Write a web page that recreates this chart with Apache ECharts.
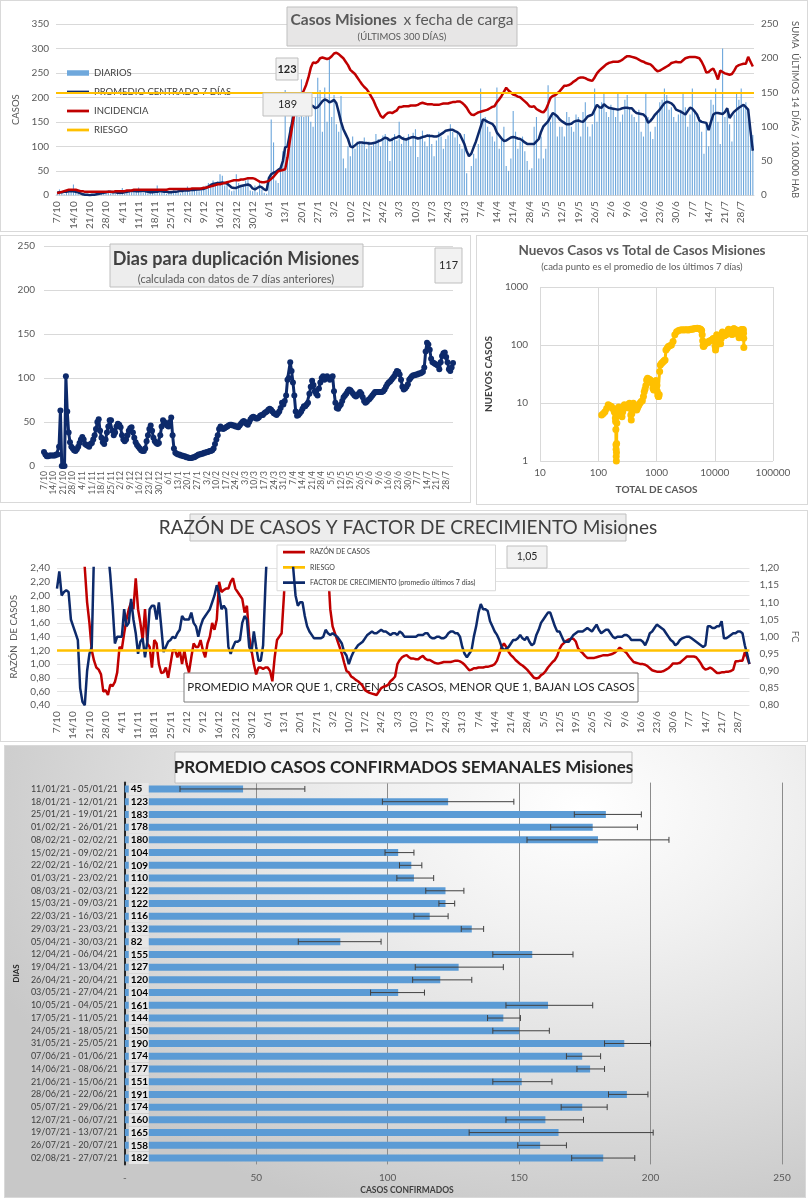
<!DOCTYPE html>
<html><head><meta charset="utf-8">
<script src="https://cdn.jsdelivr.net/npm/echarts/dist/echarts.min.js"></script>
<style>
html,body{margin:0;padding:0;background:#fff;width:808px;height:1200px;overflow:hidden;}
.p{position:absolute;outline:1px solid #d9d9d9;outline-offset:-1px;}
</style></head><body>
<div id="c1" class="p" style="left:0;top:0;width:808px;height:232px"></div>
<div id="c2" class="p" style="left:0;top:235px;width:471px;height:268px"></div>
<div id="c3" class="p" style="left:476px;top:235px;width:332px;height:270px"></div>
<div id="c4" class="p" style="left:0;top:510px;width:808px;height:232px"></div>
<div id="c5" class="p" style="left:4px;top:745px;width:802px;height:453px;background:radial-gradient(ellipse 80% 95% at 72% 14%, #ffffff 0%, #f1f1f1 30%, #dcdcdc 68%, #c8c8c8 100%);"></div>
<script>
// ---------- DATA ----------
const startDay = [2020, 9, 7];   // 7/10/2020, 300 days
const dates = [];
for (let i = 0; i < 300; i++) { const d = new Date(startDay[0], startDay[1], startDay[2] + i); dates.push(d.getDate() + '/' + (d.getMonth() + 1)); }

// Chart 1: daily cases (bars), centred 7-day mean, 14-day incidence per 100k
const dailyCases = [
3,12,5,2,8,6,10, 22,5,3,0,1,2,0, 0,2,1,3,4,6,3, 8,10,4,6,2,7,5, 15,3,9,12,6,10,8,
16,7,5,10,4,8,6, 12,20,5,7,9,3,6, 5,10,8,12,4,14,9, 18,6,12,10,15,8,16, 12,20,25,18,30,22,28,
43,40,20,22,12,8,10, 43,25,20,22,30,35,10, 8,20,6,28,12,5,3, 38,155,108,30,25,60,90,
215,95,140,200,210,180,160, 237,160,175,165,150,140,200, 240,215,130,220,150,280,160,
205,145,130,203,75,55,100, 80,120,95,110,110,105,118, 95,110,100,105,125,115,100,
122,125,115,70,118,125,112, 150,105,120,115,125,100,128, 135,78,120,132,110,100,125,
105,80,112,130,120,95,115, 122,145,130,118,128,105,95, 125,45,0,60,85,75,105,
218,155,160,140,130,120,110, 220,95,118,140,60,50,75, 172,130,95,110,120,90,70,
52,55,140,160,75,120,75, 95,225,150,170,200,120,140, 140,120,170,160,140,130,165,
160,120,170,190,140,120,145, 218,150,180,190,210,170,160, 185,175,160,210,150,165,195,
205,180,165,160,150,175,130, 120,210,160,130,115,140,170, 190,195,218,205,175,180,160,
150,165,175,210,180,140,165, 218,175,150,160,130,85,145, 100,195,185,218,150,105,300,
160,175,145,110,165,210,195, 218,185,190,170,120,123];
const avg7 = [
5,6,6,7,7,8,8, 8,7,6,4,2,1,1, 0,1,1,2,3,4,5, 6,7,7,6,6,5,5, 5,6,7,8,9,9,8,
8,9,9,8,7,6,6, 7,7,8,8,7,7,6, 6,7,7,8,9,9,10, 10,10,11,11,12,12,13, 13,15,18,21,23,24,25,
25,26,25,24,20,16,15, 15,17,19,20,21,22,20, 14,12,15,18,16,12,10, 35,43,46,48,52,55,70,
98,100,125,150,175,188,190, 182,178,176,180,184,182,178, 180,186,192,196,194,190,192,
195,188,170,150,135,125,115, 100,98,102,106,108,108,107, 107,106,106,107,108,110,112,
115,118,116,112,114,117,118, 121,117,115,114,116,118,119, 118,116,117,119,120,122,121,
121,120,120,122,125,128,132, 133,134,134,131,129,125,115, 105,90,80,85,98,110,125,
140,155,153,150,148,146,140, 128,122,116,111,112,115,118, 119,118,116,115,112,108,105,
105,105,105,110,115,130,141, 146,151,160,168,165,161,155, 151,148,145,145,146,150,152,
153,151,150,155,161,163,165, 175,185,180,179,186,182,179, 178,177,176,175,176,178,179,
179,178,178,172,168,167,166, 165,160,148,152,158,165,170, 175,182,188,191,190,188,183,
175,173,171,168,165,172,179, 177,171,165,153,150,149,148, 133,150,165,168,168,167,166,
170,178,158,165,171,175,179, 182,185,180,175,131,91];
const incidence = [
3,4,5,6,7,8,8, 8,8,7,6,6,5,5, 5,5,5,5,5,5,5, 5,5,5,5,6,6,6, 6,6,7,7,7,8,8,
8,8,8,8,8,8,8, 8,8,8,8,8,8,9, 9,9,9,9,9,9,9, 9,9,10,10,10,10,10, 11,11,12,13,14,15,16,
16,17,18,19,20,21,22, 22,22,23,23,24,25,25, 25,24,22,20,19,19,20, 21,24,27,31,35,36,37,
38,55,79,100,121,130,140, 146,153,161,172,186,194,193, 195,200,201,200,199,200,203,
207,208,206,203,200,195,190, 183,180,177,172,167,162,158, 155,150,144,138,130,123,116,
113,117,120,121,120,122,124, 129,129,130,130,130,131,131, 131,132,134,135,134,133,133,
133,132,132,132,133,134,134, 134,135,136,136,137,137,135, 132,128,122,118,117,119,121,
122,123,124,125,127,129,130, 136,140,145,151,157,153,150, 147,146,144,143,140,137,134,
130,129,130,126,124,122,121, 125,133,142,145,146,149,152, 156,160,160,161,163,166,168,
171,172,172,171,169,168,167, 172,178,182,185,188,191,193, 194,195,195,195,196,198,201,
203,203,202,201,200,198,196, 195,193,192,191,188,184,181, 182,184,186,188,190,193,194,
195,194,194,197,200,201,202, 202,202,201,200,195,188,179, 180,183,185,178,169,182,180,
178,177,176,177,182,188,190, 191,192,192,202,195,188];
const riskIncidence = 150;
const lastDaily = '123', lastIncidence = '189';

// Chart 2: days for doubling
const doublingDays = [
16,13,11,11,12,12,12, 12,12,13,13,22,63,0, 0,0,102,62,38,27,22, 20,18,17,19,22,26,30, 33,30,25,24,23,22,25,
26,30,35,42,50,53,40, 32,27,25,30,38,45,52, 52,40,35,38,45,48,47, 44,35,30,28,30,35,40, 43,44,38,32,27,24,22,
20,18,17,17,20,28,35, 42,46,40,32,28,26,25, 26,35,45,52,50,48,46, 45,50,55,35,20,15,14,
13,13,12,12,11,11,10, 10,9,9,9,10,10,11, 12,13,13,14,14,15,15, 16,16,17,17,18,20,25,
30,35,42,45,43,42,43, 44,45,46,47,47,46,46, 45,45,44,46,48,50,51, 50,48,47,50,53,55,56,
55,54,54,55,57,58,58, 60,61,62,64,65,64,62, 60,59,58,60,62,66,72, 70,74,80,98,100,118,108,
95,80,62,57,58,60,62, 65,68,68,70,72,82,90, 97,92,85,82,80,88,95, 100,102,98,100,102,100,98,
100,102,85,72,66,65,68, 70,74,78,80,82,85,87, 86,84,82,80,79,80,82, 84,82,78,74,72,73,75,
76,78,80,82,84,84,84, 84,84,84,85,87,90,93, 95,96,98,100,102,105,108, 107,104,98,90,87,88,90,
93,98,100,102,103,103,104, 104,105,105,106,107,112,130, 140,138,132,122,118,117,116,
115,114,110,118,125,128,129, 124,118,110,108,112,117];
const lastDoubling = '117';

// Chart 3: [total cases, new cases (7-day mean)]
const newVsTotal = [
[114,6.2],[122,6.6],[130,7.1],[139,8.0],[148,9.3],[158,9.0],[168,8.7],[178,8.0],[187,7.2],[192,6.8],[196,5.5],[198,4.8],
[200,3.5],[201,1.9],[202,1.6],[203,1.2],[204,1.0],[205,1.4],[206,2.0],[208,4.5],[212,6.0],[216,8.1],[224,8.5],[232,8.0],
[240,7.6],[248,7.0],[255,5.8],[262,7.0],[270,8.5],[280,9.3],[292,8.8],[305,8.3],[320,8.7],[332,9.5],[342,9.9],[352,8.0],
[361,6.2],[368,5.1],[376,6.5],[388,8.5],[400,9.9],[418,9.0],[438,8.3],[455,7.6],[469,8.1],[485,8.8],[500,9.3],[520,10.0],
[545,10.6],[570,10.9],[595,13.0],[615,15.7],[635,17.5],[655,20],[675,25],[700,26.8],[728,26.0],[755,25.5],[780,25.0],
[810,24.0],[840,22.0],[870,18.0],[895,16.8],[920,20],[950,23.4],[975,24.5],[1000,23.4],[1015,20.0],[1030,16.0],[1050,13.8],
[1070,13.0],[1090,12.9],[1110,14],[1130,35],[1160,45],[1210,48],[1260,50],[1310,52],[1360,54],[1400,55],[1450,82],[1520,88],
[1590,94],[1690,97],[1800,100],[1920,115],[2060,150],[2210,170],[2390,177],[2570,182],[2750,183],[2930,181],[3110,183],
[3300,184],[3480,182],[3670,183],[3860,186],[4050,187],[4240,189],[4430,190],[4620,192],[4820,193],[5010,195],[5200,192],
[5400,190],[5590,188],[5780,185],[5950,178],[6080,150],[6200,118],[6300,98],[6400,94],[6500,96],[6600,100],[6800,106],
[7000,107],[7300,108],[7600,110],[7900,116],[8200,116],[8500,120],[8800,121],[9100,125],[9400,130],[9700,129],[10000,120],
[10150,95],[10300,82],[10450,92],[10650,100],[10800,150],[11100,146],[11400,128],[11700,115],[12000,117],[12300,108],
[12600,105],[12900,130],[13200,151],[13500,168],[13800,161],[14100,151],[14400,145],[14700,146],[15000,148],[15300,152],
[15600,150],[15900,155],[16200,162],[16550,165],[16900,178],[17250,186],[17600,181],[17950,179],[18300,178],[18650,172],
[19000,167],[19350,162],[19700,152],[20050,153],[20400,165],[20750,178],[21100,190],[21450,191],[21800,183],[22150,173],
[22500,172],[22800,178],[23150,181],[23500,170],[23850,165],[24200,168],[24550,180],[24900,176],[25250,155],[25550,150],
[25850,148],[26150,133],[26400,168],[26750,170],[27100,178],[27400,158],[27750,171],[28100,179],[28450,182],[28800,185],
[29150,180],[29500,183],[29850,178],[30200,175],[30550,180],[30900,185],[31200,160],[31450,131],[31550,91]];

// Chart 4: ratio of cases and growth factor
const caseRatio = [
5,5,5,5,5,5,5, 4,3.5,3.5,3,3,2.4,1.9, 1.6,1.2,1.05,0.95,0.92,0.85,0.6, 0.62,0.55,0.7,0.68,0.74,0.88,1.25,
1.22,1.45,1.65,1.8,1.9,1.8,2.25, 1.8,1.6,1.35,1.8,1.3,1.25,0.95, 1.35,1.3,1.0,0.87,0.88,0.95,0.8,
1.0,1.2,1.2,1.1,1.2,1.0,1.2, 1.0,0.88,1.1,1.3,1.25,1.25,1.35, 1.2,1.1,1.3,1.4,1.6,1.5,1.65,
2.2,2.05,2.08,2.1,2.1,2.2,2.25, 2.1,2.05,2.0,1.95,1.75,1.85,1.4, 1.2,1.0,0.85,0.95,0.95,0.93,0.95,
0.95,0.9,0.75,1.1,1.35,1.4,1.45, 2.0,2.6,3,3.5,4,4,4, 4,4,4,3.5,3.5,3.2,3, 3,3,2.9,2.8,2.6,2.4,1.8,
1.55,1.45,1.35,1.25,1.15,1.02,0.9, 0.88,0.82,0.8,0.77,0.75,0.72,0.68, 0.62,0.6,0.58,0.57,0.56,0.55,0.6,
0.65,0.67,0.68,0.7,0.75,0.78,0.82, 1.0,1.06,1.1,1.12,1.13,1.1,1.08, 1.08,1.07,1.07,1.1,1.12,1.08,1.06,
1.06,1.04,1.02,1.01,1.01,1.02,1.03, 1.03,1.03,1.03,1.04,1.05,1.05,1.04, 1.02,0.99,0.95,0.91,0.92,0.94,0.94,
0.95,0.95,0.95,0.96,0.96,0.97,0.98, 1.0,1.05,1.15,1.25,1.3,1.25,1.18, 1.13,1.1,1.06,1.03,1.0,0.98,0.95,
0.92,0.88,0.84,0.8,0.79,0.8,0.84, 0.86,0.9,0.95,0.99,1.03,1.06,1.12, 1.22,1.28,1.31,1.34,1.36,1.37,1.37,
1.33,1.23,1.19,1.16,1.12,1.09,1.09, 1.09,1.09,1.1,1.11,1.12,1.13,1.13, 1.13,1.14,1.15,1.17,1.2,1.24,1.21,
1.19,1.16,1.11,1.07,1.03,1.02,1.01, 1.0,1.0,0.99,0.97,0.94,0.91,0.9, 0.89,0.89,0.89,0.9,0.92,0.94,0.97,
1.01,1.01,1.01,1.02,1.05,1.08,1.11, 1.11,1.11,1.11,1.1,1.06,1.01,0.95, 0.92,0.93,0.95,0.93,0.9,0.87,0.87,
0.88,0.88,0.89,0.89,0.9,0.92,1.04, 1.04,1.05,1.05,1.17,1.1,1.0];
const growthFactor = [
1.14,1.19,1.12,1.13,1.135,1.13,1.05, 1.03,1.01,0.99,0.85,0.81,0.80,0.9, 0.95,0.97,1.25,1.3,1.3,1.3,1.3,
1.3,1.25,1.18,1.09,0.98,1.0,1.0, 1.0,1.08,1.03,1.04,1.11,1.05,1.01, 0.95,0.985,0.995,0.94,0.985,1.08,1.09,
1.09,1.05,1.10,1.03,0.955,0.97,0.985, 0.99,1.0,0.995,1.01,1.02,1.06,1.05, 1.05,1.05,1.07,1.04,1.03,1.0,1.03,
1.05,1.06,1.07,1.08,1.1,1.12,1.15, 1.125,1.08,1.09,1.08,0.97,0.95,0.97, 0.985,0.985,0.99,1.04,1.06,1.05,0.97,
0.955,1.015,0.97,0.93,0.93,0.975,1.15, 1.3,1.3,1.3,1.3,1.3,1.3,1.3, 1.3,1.3,1.3,1.3,1.2,1.12,1.09,
1.1,1.1,1.06,1.03,1.015,1.005,0.995, 0.995,0.995,0.995,1.0,1.02,1.01,1.005, 1.01,1.005,1.0,0.99,0.98,0.955,0.945,
0.92,0.94,0.955,0.965,0.975,0.98,0.985, 0.995,1.005,1.01,1.015,1.01,1.01,1.015, 1.02,1.015,1.015,1.01,1.005,1.01,1.01,
1.005,1.015,1.01,1.0,1.0,1.0,1.0, 1.0,1.0,1.005,1.005,1.005,1.01,1.01, 1.0,0.995,0.995,1.0,1.0,0.995,0.995,
1.0,1.01,1.015,1.015,1.01,1.01,1.0, 0.97,0.95,0.94,0.95,0.96,1.0,1.03, 1.07,1.095,1.08,1.08,1.075,1.045,1.03,
1.015,1.005,0.99,0.97,0.96,0.965,0.97, 0.98,0.99,0.99,0.995,1.005,0.995,0.99, 1.0,0.985,0.975,0.98,1.005,1.02,1.04,
1.05,1.06,1.07,1.07,1.05,1.03,1.015, 1.015,1.0,0.985,0.985,0.985,0.995,1.005, 1.01,1.015,1.015,1.015,1.02,1.025,1.02,
1.015,1.025,1.035,1.02,1.01,1.015,1.02, 1.02,1.01,1.0,0.995,1.0,1.0,1.0, 1.005,1.005,1.0,0.99,0.99,0.99,0.99,
0.99,0.985,0.975,0.99,1.01,1.015,1.025, 1.035,1.03,1.025,1.02,1.01,1.0,0.99, 0.985,0.975,0.98,0.99,0.995,0.998,1.0,
1.0,0.995,0.99,0.985,0.98,0.975,0.97, 0.975,1.03,1.03,1.025,1.025,1.03,1.03, 1.045,0.995,0.995,1.0,1.005,1.01,1.01,
1.015,1.015,1.01,0.975,0.95,0.92];
const riskRatio = 1.2;
const lastFactor = '1,05';

// Chart 5: weekly averages
const weekLabels = ["11/01/21 - 05/01/21","18/01/21 - 12/01/21","25/01/21 - 19/01/21","01/02/21 - 26/01/21","08/02/21 - 02/02/21",
"15/02/21 - 09/02/21","22/02/21 - 16/02/21","01/03/21 - 23/02/21","08/03/21 - 02/03/21","15/03/21 - 09/03/21","22/03/21 - 16/03/21",
"29/03/21 - 23/03/21","05/04/21 - 30/03/21","12/04/21 - 06/04/21","19/04/21 - 13/04/21","26/04/21 - 20/04/21","03/05/21 - 27/04/21",
"10/05/21 - 04/05/21","17/05/21 - 11/05/21","24/05/21 - 18/05/21","31/05/21 - 25/05/21","07/06/21 - 01/06/21","14/06/21 - 08/06/21",
"21/06/21 - 15/06/21","28/06/21 - 22/06/21","05/07/21 - 29/06/21","12/07/21 - 06/07/21","19/07/21 - 13/07/21","26/07/21 - 20/07/21",
"02/08/21 - 27/07/21"];
const weekAvg = [45,123,183,178,180,104,109,110,122,122,116,132,82,155,127,120,104,161,144,150,190,174,177,151,191,174,160,165,158,182];
const weekLow = [21,98,171,162,153,99,104.5,103.5,114.5,119.5,110,128,66,140,110.5,109.5,93.5,145,138,140,182.5,168,172,140,184,166,145,131,149.5,170];
const weekHigh = [68.5,148,196.5,195,207,110,113,117.5,129,125.5,123,136.5,97.5,170.5,144,132,114,178,150.5,161.5,200,181,182.5,162.5,199,183.5,174.5,201,168,194];

// ---------- STYLE ----------
const FONT = 'Lato, "Liberation Sans", sans-serif';
const NAVY = '#0D2A6B', RED = '#C00000', ORANGE = '#FFC000', GRAY = '#595959';
const LINEICON = 'path://M0,0M0,3H24V6H0ZM24,9';
const fmt2 = v => v.toFixed(2).replace('.', ',');
const plain = v => String(v);

function box(x, y, w, h, txt, fs, opt) {
  opt = opt || {};
  const z = opt.z == null ? 100 : opt.z;
  return { type: 'group', x: x, y: y, z: z, children: [
    { type: 'rect', z: z, shape: { x: 0, y: 0, width: w, height: h }, style: { fill: opt.fill || '#f2f2f2', stroke: opt.stroke || '#bfbfbf', lineWidth: 1 } },
    { type: 'text', z: z + 1, x: w / 2, y: h / 2, style: { text: txt, fontSize: fs, fontWeight: opt.bold ? 'bold' : 'normal', fontFamily: FONT, fill: opt.color || '#262626', align: 'center', verticalAlign: 'middle', textAlign: 'center', textVerticalAlign: 'middle' } }
  ]};
}
function txt(x, y, t, fs, opt) {
  opt = opt || {};
  return { type: 'text', x: x, y: y, z: opt.z == null ? 100 : opt.z, style: { text: t, fontSize: fs, fontWeight: opt.bold ? 'bold' : 'normal', fontFamily: FONT, fill: opt.color || GRAY, align: 'center', verticalAlign: 'middle', textAlign: 'center', textVerticalAlign: 'middle' } };
}

// ---------- CHART 1 ----------
echarts.init(document.getElementById('c1')).setOption({
  animation: false,
  textStyle: { fontFamily: FONT },
  grid: { left: 56, right: 48, top: 24, bottom: 33 },
  legend: { orient: 'vertical', left: 62, top: 63, itemGap: 9, itemWidth: 22, itemHeight: 9, textStyle: { fontSize: 9.5, color: '#404040', fontFamily: FONT },
    data: [{ name: 'DIARIOS', icon: 'path://M0,0M0,1.5H24V7.5H0ZM24,9' }, { name: 'PROMEDIO CENTRADO 7 DÍAS', icon: LINEICON }, { name: 'INCIDENCIA', icon: LINEICON }, { name: 'RIESGO', icon: LINEICON }] },
  xAxis: { type: 'category', data: dates, axisLine: { show: true, lineStyle: { color: '#d9d9d9' } }, axisTick: { show: false },
    axisLabel: { interval: 6, rotate: 90, fontSize: 10, color: GRAY, margin: 6 } },
  yAxis: [
    { type: 'value', min: 0, max: 350, interval: 50, name: 'CASOS', nameLocation: 'middle', nameRotate: 90, nameGap: 29,
      nameTextStyle: { fontSize: 9.5, color: GRAY }, axisLabel: { fontSize: 10, color: GRAY, margin: 7 }, splitLine: { lineStyle: { color: '#d9d9d9' } } },
    { type: 'value', min: 0, max: 250, interval: 50, position: 'right', name: 'SUMA  ÚLTIMOS 14 DÍAS / 100.000 HAB', nameLocation: 'middle', nameRotate: -90, nameGap: 36,
      nameTextStyle: { fontSize: 9.5, color: GRAY }, axisLabel: { fontSize: 10, color: GRAY, margin: 7 }, splitLine: { show: false } }
  ],
  series: [
    { name: 'DIARIOS', type: 'bar', data: dailyCases, barWidth: '48%', itemStyle: { color: '#6FA8DC' }, z: 1 },
    { name: 'PROMEDIO CENTRADO 7 DÍAS', type: 'line', data: avg7, symbol: 'none', lineStyle: { color: NAVY, width: 2.5 }, itemStyle: { color: NAVY }, z: 4 },
    { name: 'INCIDENCIA', type: 'line', yAxisIndex: 1, data: incidence, symbol: 'none', lineStyle: { color: RED, width: 2.5 }, itemStyle: { color: RED }, z: 4,
      markLine: { silent: true, symbol: 'none', label: { show: false }, lineStyle: { color: ORANGE, width: 2, type: 'solid' }, data: [{ yAxis: riskIncidence }] } },
    { name: 'RIESGO', type: 'line', yAxisIndex: 1, data: [], symbol: 'none', lineStyle: { color: ORANGE, width: 2 }, itemStyle: { color: ORANGE } }
  ],
  graphic: [
    box(287, 7, 230, 39, '', 10, { fill: '#e7e6e6' }),
    { type: 'text', x: 402, y: 20, z: 102, style: { text: '{b|Casos Misiones}  {n|x fecha de carga}', align: 'center', verticalAlign: 'middle', textAlign: 'center', textVerticalAlign: 'middle',
      rich: { b: { fontSize: 15.5, fontWeight: 'bold', fill: GRAY, color: GRAY, fontFamily: FONT }, n: { fontSize: 15.5, fill: GRAY, color: GRAY, fontFamily: FONT } } } },
    txt(402, 37, '(ÚLTIMOS 300 DÍAS)', 9.5, { z: 102 }),
    box(276, 58, 22, 22, lastDaily, 11, { bold: true }),
    box(263, 93, 49, 23, lastIncidence, 11)
  ]
});

// ---------- CHART 2 ----------
echarts.init(document.getElementById('c2')).setOption({
  animation: false,
  textStyle: { fontFamily: FONT },
  grid: { left: 44, right: 18, top: 11, bottom: 37 },
  xAxis: { type: 'category', data: dates, boundaryGap: false, axisLine: { show: false }, axisTick: { show: false },
    axisLabel: { interval: 6, rotate: 90, fontSize: 8.5, color: GRAY, margin: 5 } },
  yAxis: { type: 'value', min: 0, max: 250, interval: 50, axisLabel: { fontSize: 10, color: GRAY, margin: 9 }, splitLine: { lineStyle: { color: '#d9d9d9' } } },
  series: [{ type: 'line', data: doublingDays, symbol: 'circle', symbolSize: 6, showAllSymbol: true, lineStyle: { color: NAVY, width: 3 }, itemStyle: { color: NAVY } }],
  graphic: [
    box(110, 9, 253, 43, '', 10, { fill: '#ededed' }),
    txt(236, 24, 'Dias para duplicación Misiones', 18, { bold: true, color: '#404040', z: 102 }),
    txt(236, 44, '(calculada con datos de 7 días anteriores)', 11, { color: GRAY, z: 102 }),
    box(435, 13, 27, 35, lastDoubling, 11)
  ]
});

// ---------- CHART 3 ----------
echarts.init(document.getElementById('c3')).setOption({
  animation: false,
  textStyle: { fontFamily: FONT },
  title: { text: 'Nuevos Casos vs Total de Casos Misiones', subtext: '(cada punto es el promedio de los últimos 7 días)', left: 'center', top: 9, itemGap: 4, padding: 0,
    textStyle: { fontSize: 13.5, fontWeight: 'bold', color: GRAY, fontFamily: FONT }, subtextStyle: { fontSize: 9.5, color: GRAY, fontFamily: FONT } },
  grid: { left: 61, right: 35, top: 52, bottom: 44 },
  xAxis: { type: 'log', logBase: 10, min: 10, max: 100000, axisLine: { show: false }, axisTick: { show: false },
    axisLabel: { fontSize: 10, color: GRAY, margin: 7, formatter: plain }, splitLine: { lineStyle: { color: '#d9d9d9' } },
    name: 'TOTAL DE CASOS', nameLocation: 'middle', nameGap: 24, nameTextStyle: { fontSize: 10, fontWeight: 'bold', color: GRAY } },
  yAxis: { type: 'log', logBase: 10, min: 1, max: 1000, axisLine: { show: false }, axisTick: { show: false },
    axisLabel: { fontSize: 10, color: GRAY, margin: 12, formatter: plain }, splitLine: { lineStyle: { color: '#d9d9d9' } },
    name: 'NUEVOS CASOS', nameLocation: 'middle', nameRotate: 90, nameGap: 38, nameTextStyle: { fontSize: 10, fontWeight: 'bold', color: '#404040' } },
  series: [{ type: 'line', data: newVsTotal, symbol: 'circle', symbolSize: 7, showAllSymbol: true, lineStyle: { color: ORANGE, width: 3 }, itemStyle: { color: ORANGE } }]
});

// ---------- CHART 4 ----------
echarts.init(document.getElementById('c4')).setOption({
  animation: false,
  textStyle: { fontFamily: FONT },
  grid: { left: 57, right: 52, top: 58, bottom: 34 },
  legend: { orient: 'vertical', left: 277, top: 35, itemGap: 7, itemWidth: 22, itemHeight: 10, padding: [3, 20, 4, 6],
    backgroundColor: '#ffffff', borderColor: '#d9d9d9', borderWidth: 1, textStyle: { fontSize: 7, color: '#404040', fontFamily: FONT },
    data: [{ name: 'RAZÓN DE CASOS', icon: LINEICON }, { name: 'RIESGO', icon: LINEICON }, { name: 'FACTOR DE CRECIMIENTO (promedio últimos 7 días)', icon: LINEICON }] },
  xAxis: { type: 'category', data: dates, boundaryGap: false, axisLine: { show: false }, axisTick: { show: false },
    axisLabel: { interval: 6, rotate: 90, fontSize: 10, color: GRAY, margin: 6 } },
  yAxis: [
    { type: 'value', min: 0.4, max: 2.4, interval: 0.2, name: 'RAZÓN  DE CASOS', nameLocation: 'middle', nameRotate: 90, nameGap: 38,
      nameTextStyle: { fontSize: 9.5, color: GRAY }, axisLabel: { fontSize: 10, color: GRAY, margin: 7, formatter: fmt2 }, splitLine: { lineStyle: { color: '#e3e3e3' } } },
    { type: 'value', min: 0.8, max: 1.2, interval: 0.05, position: 'right', name: 'FC', nameLocation: 'middle', nameRotate: -90, nameGap: 40,
      nameTextStyle: { fontSize: 9.5, color: GRAY }, axisLabel: { fontSize: 10, color: GRAY, margin: 10, formatter: fmt2 }, splitLine: { show: false } }
  ],
  series: [
    { name: 'RAZÓN DE CASOS', type: 'line', data: caseRatio, symbol: 'none', lineStyle: { color: RED, width: 2.5 }, itemStyle: { color: RED }, z: 3,
      markLine: { silent: true, symbol: 'none', label: { show: false }, lineStyle: { color: ORANGE, width: 2.5, type: 'solid' }, data: [{ yAxis: riskRatio }] } },
    { name: 'RIESGO', type: 'line', data: [], symbol: 'none', lineStyle: { color: ORANGE, width: 2 }, itemStyle: { color: ORANGE } },
    { name: 'FACTOR DE CRECIMIENTO (promedio últimos 7 días)', type: 'line', yAxisIndex: 1, data: growthFactor, symbol: 'none', lineStyle: { color: NAVY, width: 2.5 }, itemStyle: { color: NAVY }, z: 4 }
  ],
  graphic: [
    box(190, 4, 436, 27, 'RAZÓN DE CASOS Y FACTOR DE CRECIMIENTO Misiones', 19, { fill: '#ededed', color: '#404040' }),
    box(507, 36, 40, 22, lastFactor, 10.5),
    box(184, 163, 454, 29, 'PROMEDIO MAYOR QUE 1, CRECEN LOS CASOS, MENOR QUE 1, BAJAN LOS CASOS', 11.5, { fill: '#ffffff', stroke: '#7f7f7f', z: 1 })
  ]
});

// ---------- CHART 5 ----------
echarts.init(document.getElementById('c5')).setOption({
  animation: false,
  textStyle: { fontFamily: FONT },
  grid: { left: 118, right: 24, top: 37.6, bottom: 33.6 },
  xAxis: { type: 'value', min: 0, max: 250, interval: 50, axisLine: { show: false }, axisTick: { show: false },
    axisLabel: { fontSize: 10, color: GRAY, margin: 8, formatter: v => v === 0 ? '-' : String(v) }, splitLine: { lineStyle: { color: '#8c8c8c' } } },
  yAxis: { type: 'category', inverse: true, data: weekLabels, axisLine: { show: true, lineStyle: { color: '#262626', width: 2 } }, axisTick: { show: false },
    axisLabel: { fontSize: 9, color: '#404040', margin: 7 },
    name: 'DIAS', nameLocation: 'middle', nameRotate: 90, nameGap: 101, nameTextStyle: { fontSize: 8, fontWeight: 'bold', color: '#262626' } },
  series: [
    { type: 'bar', data: weekAvg, barWidth: 7, itemStyle: { color: '#5B9BD5' },
      label: { show: true, position: 'insideLeft', distance: 4, color: '#000', fontWeight: 'bold', fontSize: 10, fontFamily: FONT,
        backgroundColor: '#e6e6e6', padding: [1, 2, 0, 2], width: 16, height: 11, lineHeight: 11 } },
    { type: 'custom', z: 5, data: weekLabels.map((c, i) => [i, weekLow[i], weekHigh[i]]), encode: { x: [1, 2], y: 0 },
      renderItem: function (params, api) {
        const lo = api.coord([api.value(1), api.value(0)]), hi = api.coord([api.value(2), api.value(0)]);
        const st = { stroke: '#404040', lineWidth: 1 };
        return { type: 'group', children: [
          { type: 'line', shape: { x1: lo[0], y1: lo[1], x2: hi[0], y2: hi[1] }, style: st },
          { type: 'line', shape: { x1: lo[0], y1: lo[1] - 3, x2: lo[0], y2: lo[1] + 3 }, style: st },
          { type: 'line', shape: { x1: hi[0], y1: hi[1] - 3, x2: hi[0], y2: hi[1] + 3 }, style: st }
        ]};
      } }
  ],
  graphic: [
    box(171, 7, 457, 31, 'PROMEDIO CASOS CONFIRMADOS SEMANALES Misiones', 17, { bold: true, fill: '#f7f7f7', color: '#262626' }),
    txt(403, 445, 'CASOS CONFIRMADOS', 8.5, { bold: true, color: '#404040' })
  ]
});
</script>
</body></html>
